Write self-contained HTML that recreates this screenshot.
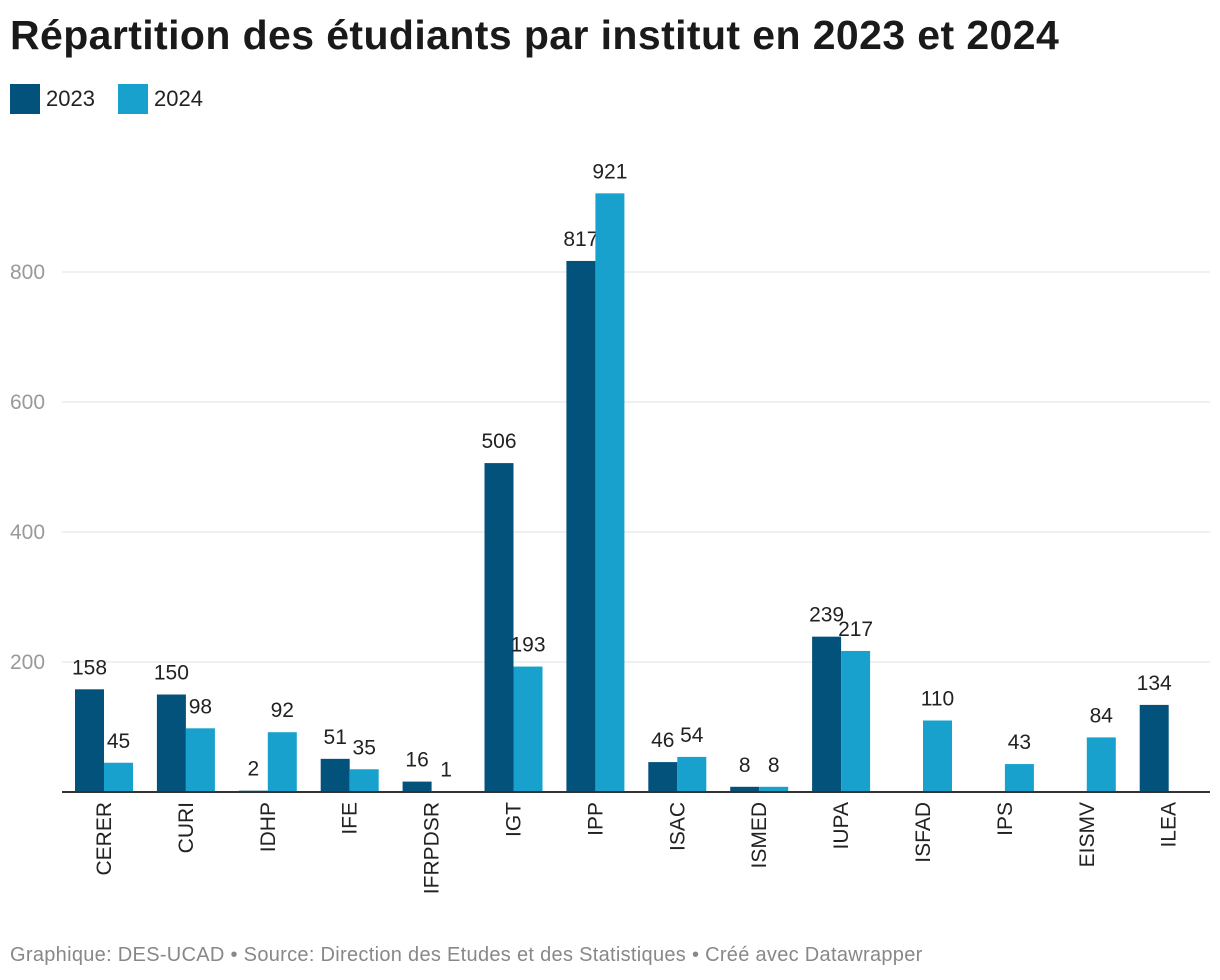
<!DOCTYPE html>
<html><head><meta charset="utf-8">
<style>
body{margin:0;background:#fff;font-family:"Liberation Sans",sans-serif;}
#wrap{position:relative;width:1220px;height:980px;overflow:hidden;}
h1{position:absolute;left:10px;top:12px;margin:0;font-size:41px;font-weight:bold;color:#1a1a1a;letter-spacing:0.4px;}
.leg{position:absolute;top:84px;font-size:22px;color:#222;display:flex;align-items:center;}
.sw{width:30px;height:30px;margin-right:6px;display:inline-block;}
#foot{position:absolute;left:10px;top:944px;font-size:20px;color:#888;letter-spacing:0.3px;}
</style></head><body>
<div id="wrap">
<h1>Répartition des étudiants par institut en 2023 et 2024</h1>
<div class="leg" style="left:10px"><span class="sw" style="background:#03527c"></span>2023</div>
<div class="leg" style="left:118px"><span class="sw" style="background:#18a1cd"></span>2024</div>
<svg id="svg" width="1220" height="980" style="position:absolute;left:0;top:0"></svg>
<div id="foot">Graphique: DES-UCAD • Source: Direction des Etudes et des Statistiques • Créé avec Datawrapper</div>
</div>
<script>
const categories=["CERER","CURI","IDHP","IFE","IFRPDSR","IGT","IPP","ISAC","ISMED","IUPA","ISFAD","IPS","EISMV","ILEA"];
const values2023=[158,150,2,51,16,506,817,46,8,239,null,null,null,134];
const values2024=[45,98,92,35,1,193,921,54,8,217,110,43,84,null];
const yTicks=[200,400,600,800];
const NS="http://www.w3.org/2000/svg";
const svg=document.getElementById('svg');
const y=v=>792-v*0.65;
const xc=i=>104+i*81.9;
const bw=29;
function mk(t,a){const e=document.createElementNS(NS,t);for(const k in a)e.setAttribute(k,a[k]);svg.appendChild(e);return e;}
yTicks.forEach(t=>{
  const l=mk('line',{x1:62,x2:1210,y1:y(t),y2:y(t),stroke:'#e0e0e0','stroke-width':1});
  
  
  const tx=mk('text',{x:10,y:y(t)+7,'font-size':21,fill:'#999','font-family':'Liberation Sans, sans-serif'});
  tx.textContent=t;
  
  
});
function bar(v,x,col,name){
  if(v==null)return;
  const r=mk('rect',{x:x,y:y(v),width:bw,height:v*0.65,fill:col});
  
  
  const t=mk('text',{x:x+bw/2,y:y(v)-15,'font-size':21,fill:'#222','text-anchor':'middle','font-family':'Liberation Sans, sans-serif'});
  t.textContent=v;
  
  
}
categories.forEach((c,i)=>{
  bar(values2023[i],xc(i)-bw,'#03527c','bar-2023-'+c.toLowerCase());
  bar(values2024[i],xc(i),'#18a1cd','bar-2024-'+c.toLowerCase());
  const t=mk('text',{transform:`translate(${xc(i)+7},802) rotate(-90)`,'font-size':21,fill:'#222','text-anchor':'end','font-family':'Liberation Sans, sans-serif'});
  t.textContent=c;
  
  
});
const ax=mk('line',{x1:62,x2:1210,y1:792,y2:792,stroke:'#333','stroke-width':2});


</script>
</body></html>
